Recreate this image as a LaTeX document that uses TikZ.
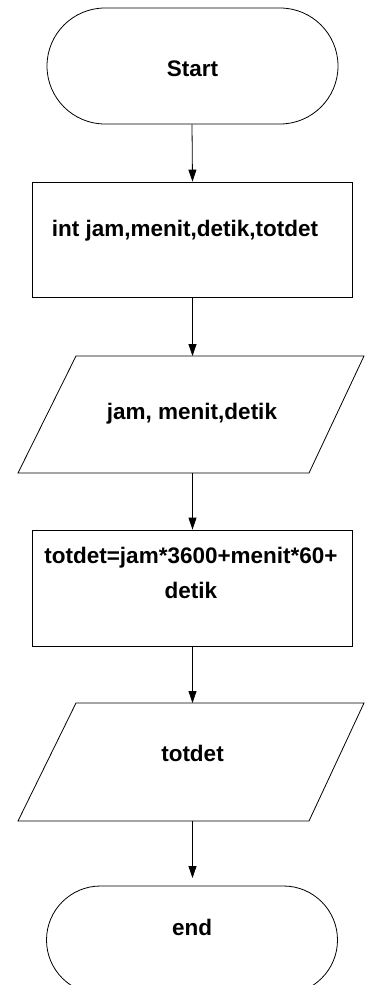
\documentclass[tikz,border=0pt]{standalone}
\usepackage{fontspec}
\setmainfont{Liberation Sans}
\usetikzlibrary{arrows.meta,shapes.misc}
\begin{document}
\begin{tikzpicture}[x=1pt,y=-1pt,line width=0.8pt,
  term/.style={draw,rounded rectangle,minimum width=291pt,inner sep=0pt},
  procbox/.style={draw,rectangle,minimum width=320pt,minimum height=115pt,inner sep=0pt},
  lbl/.style={font=\fontsize{22.5}{35}\selectfont\bfseries,inner sep=0pt,align=center},
  flow/.style={-{Triangle[length=12pt,width=8pt]}}]
\clip (0,0) rectangle (365,985);
\fill[white] (0,0) rectangle (365,985);
% Start
\node[term,minimum height=116pt] (start) at (192.5,66) {};
\node[lbl] (starttxt) at (192.5,69) {Start};
% declaration
\node[procbox] (decl) at (192,239.5) {};
\node[lbl] (decltxt) at (185,231) {int jam,menit,detik,totdet};
% input
\draw (76,356) -- (364,356) -- (309,473) -- (18,473) -- cycle;
\coordinate (inN) at (192.5,356);
\coordinate (inS) at (192.5,473);
\node[lbl] (intxt) at (192,414) {jam, menit,detik};
% calculation
\node[procbox,minimum height=116pt] (calc) at (192,588) {};
\node[lbl] (calctxt) at (191,573) {totdet=jam*3600+menit*60+\\detik};
% output
\draw (76,703) -- (364,703) -- (309,821) -- (18,821) -- cycle;
\coordinate (outN) at (192.5,703);
\coordinate (outS) at (192.5,821);
\node[lbl] (outtxt) at (192.5,753) {totdet};
% end
\node[term,minimum height=108pt] (finish) at (192,940) {};
\node[lbl] (endtxt) at (192,927) {end};
\coordinate (endN) at (192.5,878);
% connectors
\draw[flow] (start.south -| decl.north) -- (decl.north -| start.south);
\draw[flow] (decl.south -| inN) -- (inN);
\draw[flow] (inS) -- (calc.north -| inS);
\draw[flow] (calc.south -| outN) -- (outN);
\draw[flow] (outS) -- (endN);
\end{tikzpicture}
\end{document}
